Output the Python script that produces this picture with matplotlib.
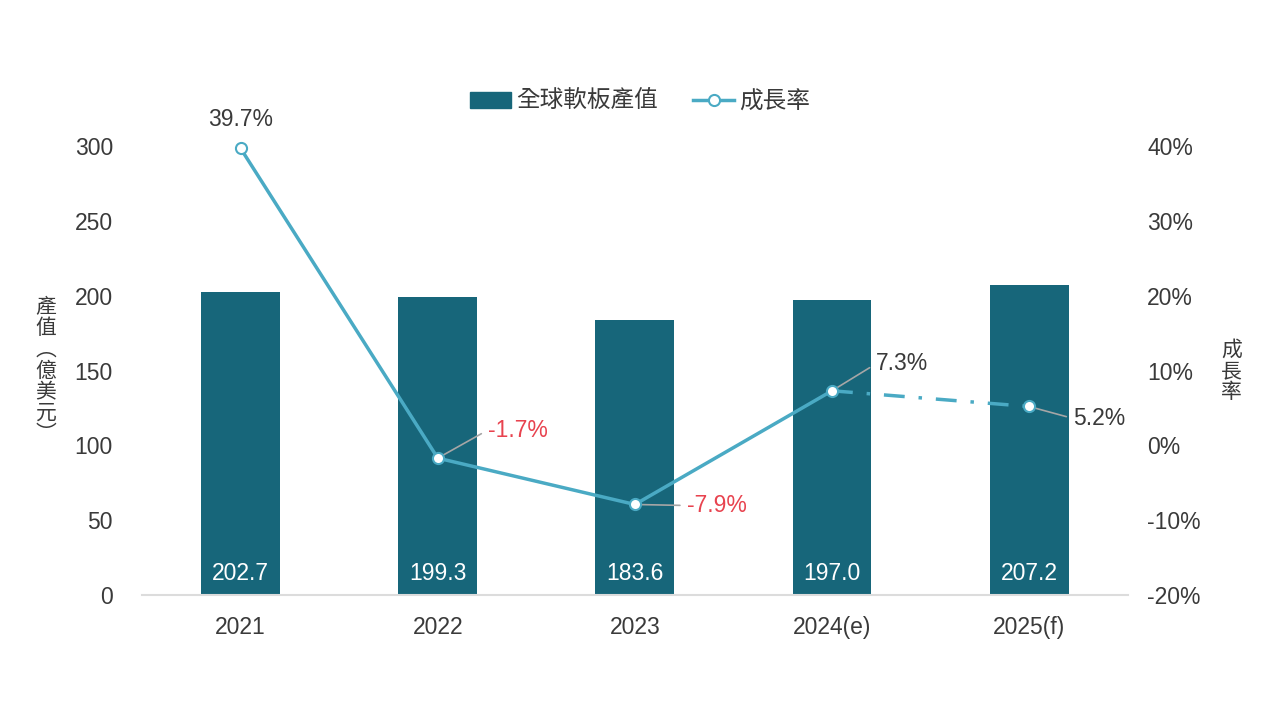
import matplotlib.pyplot as plt
from matplotlib.patches import Patch
from matplotlib.lines import Line2D
from matplotlib.ticker import FuncFormatter

plt.rcParams['font.family'] = ['Liberation Sans', 'Noto Sans CJK TC', 'DejaVu Sans']

years = ["2021", "2022", "2023", "2024(e)", "2025(f)"]
output = [202.7, 199.3, 183.6, 197.0, 207.2]
growth = [39.7, -1.7, -7.9, 7.3, 5.2]

BAR = "#17667a"
LINE = "#4aaac4"
TXT = "#3a3a3a"
RED = "#e8434f"
GREY = "#a6a6a6"
FS = 16.5

fig = plt.figure(figsize=(12.8, 7.2), dpi=100)
ax = fig.add_axes([0.111, 0.1736, 0.770, 0.6234])
ax2 = ax.twinx()

x = list(range(len(years)))
ax.bar(x, output, width=0.4, color=BAR, zorder=2)
ax.set_xlim(-0.5, 4.5)
ax.set_ylim(0, 300)
ax.set_yticks(range(0, 301, 50))
ax.set_xticks(x)
ax.set_xticklabels(years)

for i, v in enumerate(output):
    ax.annotate(f"{v:.1f}", xy=(i, 0), xytext=(0, 22), textcoords="offset pixels",
                ha="center", va="center", color="white", fontsize=FS)

# growth line: solid actual, dash-dot forecast
ax2.plot(x[:4], growth[:4], color=LINE, lw=2.5, zorder=3, clip_on=False)
ax2.plot(x[3:], growth[3:], color=LINE, lw=2.5, ls=(0, (6, 4, 1, 4)), zorder=3)
ax2.plot(x, growth, ls="none", marker="o", ms=8, mfc="white", mec=LINE,
         mew=1.5, zorder=4, clip_on=False)
ax2.set_ylim(-20, 40)
ax2.set_yticks(range(-20, 41, 10))
ax2.yaxis.set_major_formatter(FuncFormatter(lambda v, p: f"{v:.0f}%"))

# value labels for growth
offsets = [(0, 29), (50, 28), (52, -1), (44, 27), (44, -12)]
colors = [TXT, RED, RED, TXT, TXT]
for i, (g, off, c) in enumerate(zip(growth, offsets, colors)):
    if i == 0:
        ax2.annotate(f"{g:.1f}%", xy=(i, g), xytext=off, textcoords="offset pixels",
                     ha="center", va="center", color=c, fontsize=FS)
    else:
        ax2.annotate(f"{g:.1f}%", xy=(i, g), xytext=off, textcoords="offset pixels",
                     ha="left", va="center", color=c, fontsize=FS,
                     arrowprops=dict(arrowstyle="-", color=GREY, lw=1.2,
                                     shrinkA=3, shrinkB=4, relpos=(0, 0.5)))

for a in (ax, ax2):
    for s in a.spines.values():
        s.set_visible(False)
    a.tick_params(length=0, labelsize=FS, labelcolor=TXT)
ax.spines["bottom"].set_visible(True)
ax.spines["bottom"].set_color("#dcdcdc")
ax.spines["bottom"].set_linewidth(1.5)
ax.tick_params(axis="y", pad=21)
ax.tick_params(axis="x", pad=15)
ax2.tick_params(axis="y", pad=14)

fig.text(0.036, 0.485, "產\n值\n︵\n億\n美\n元\n︶", ha="center", va="center",
         fontsize=15, color=TXT, linespacing=0.95, family=["Noto Sans CJK TC"])
fig.text(0.962, 0.485, "成\n長\n率", ha="center", va="center",
         fontsize=15, color=TXT, linespacing=0.95, family=["Noto Sans CJK TC"])

handles = [Patch(color=BAR),
           Line2D([], [], color=LINE, lw=2.5, marker="o", ms=8, mfc="white", mec=LINE, mew=1.5)]
fig.legend(handles, ["全球軟板產值", "成長率"], loc="center", bbox_to_anchor=(0.5, 0.858),
           ncol=2, frameon=False, fontsize=17, handlelength=1.75, handleheight=0.7,
           columnspacing=1.5, handletextpad=0.2, labelcolor=TXT)

fig.savefig("out.png", dpi=100)
